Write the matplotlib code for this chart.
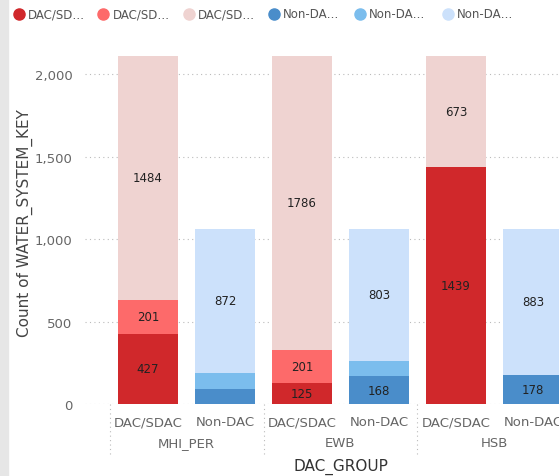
import matplotlib
matplotlib.use("Agg")
import matplotlib.pyplot as plt
from matplotlib.patches import Rectangle
from matplotlib.lines import Line2D

groups = ["MHI_PER", "EWB", "HSB"]
subcats = ["DAC/SDAC", "Non-DAC"]
legend_labels = ["DAC/SD…", "DAC/SD…", "DAC/SD…", "Non-DA…", "Non-DA…", "Non-DA…"]

# stacked segments per group: bottom, middle, top
dac_bottom = [427, 125, 1439]
dac_middle = [201, 201, 0]
dac_top = [1484, 1786, 673]
non_bottom = [92, 168, 178]
non_middle = [97, 92, 0]
non_top = [872, 803, 883]

dac_colors = ["#D0282B", "#FD6A6A", "#EFD3D1"]
non_colors = ["#4A8DCA", "#7BBDED", "#CCE1FB"]

W, H = 559, 477
fig = plt.figure(figsize=(W / 100, H / 100), dpi=100)
fig.patches.append(Rectangle((0, 0), 8 / W, 1, transform=fig.transFigure,
                             color="#E6E6E6", zorder=0))

ax_left, ax_right = 85 / W, 1.0
ax_bottom, ax_top = (H - 405) / H, (H - 42) / H
ax = fig.add_axes([ax_left, ax_bottom, ax_right - ax_left, ax_top - ax_bottom])
ax.set_xlim(-0.82, 5.34)
ax.set_ylim(0, 2200)

width = 0.78
threshold = 100
for gi in range(len(groups)):
    for si, (segs, cols) in enumerate([((dac_bottom, dac_middle, dac_top), dac_colors),
                                        ((non_bottom, non_middle, non_top), non_colors)]):
        x = gi * 2 + si
        base = 0
        for seg, c in zip(segs, cols):
            v = seg[gi]
            if v > 0:
                ax.bar(x, v, width=width, bottom=base, color=c, zorder=2)
                if v >= threshold:
                    ax.text(x, base + v / 2, str(v), ha="center", va="center",
                            fontsize=8.5, color="#222222", zorder=3)
            base += v

for s in ax.spines.values():
    s.set_visible(False)
ax.set_yticks([0, 500, 1000, 1500, 2000])
ax.set_yticklabels(["0", "500", "1,000", "1,500", "2,000"])
ax.tick_params(axis="y", length=0, labelsize=9.5, labelcolor="#666666", pad=9)
ax.grid(axis="y", linestyle=(0, (1, 3)), color="#BBBBBB", linewidth=0.8, zorder=0)
ax.set_xticks([])
ax.set_ylabel("Count of WATER_SYSTEM_KEY", fontsize=11, color="#444444", labelpad=1)

# hierarchical x labels
trans = ax.get_xaxis_transform()
for gi, g in enumerate(groups):
    for si, s in enumerate(subcats):
        x = gi * 2 + si
        ax.text(x, -18 / 363, s, transform=trans, ha="center", va="center",
                fontsize=9.5, color="#666666", clip_on=False)
    ax.text(gi * 2 + 0.5, -39 / 363, g, transform=trans, ha="center", va="center",
            fontsize=9.5, color="#666666", clip_on=False)
for xb in [-0.5, 1.5, 3.5]:
    ax.plot([xb, xb], [0, -50 / 363], transform=trans, clip_on=False,
            linestyle=(0, (1, 3)), color="#BBBBBB", linewidth=0.8)
ax.text(2.5, -62 / 363, "DAC_GROUP", transform=trans, ha="center", va="center",
        fontsize=11, color="#333333", clip_on=False)

# legend
circ_x = [19, 103, 189, 274, 360, 448]
txt_x = [28, 113, 198, 283, 369, 457]
all_colors = dac_colors + non_colors
ly = 1 - 15 / H
for cx, tx, c, lab in zip(circ_x, txt_x, all_colors, legend_labels):
    fig.add_artist(Line2D([cx / W], [ly], marker="o", markersize=8, color=c,
                          linestyle="none", transform=fig.transFigure))
    fig.text(tx / W, ly, lab, ha="left", va="center", fontsize=8.5, color="#555555")

fig.savefig("out.png", dpi=100)
